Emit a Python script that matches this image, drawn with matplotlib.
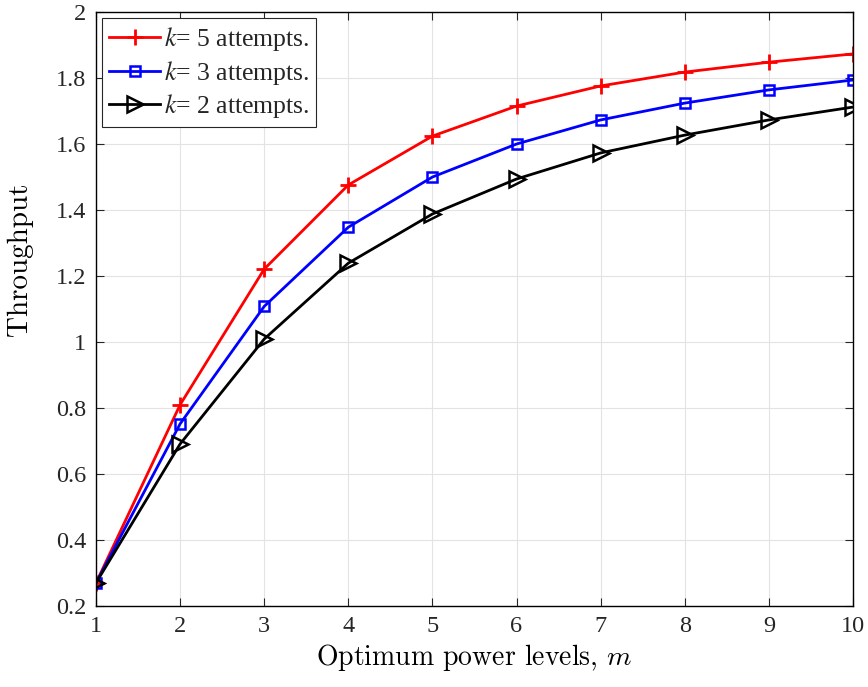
import matplotlib
matplotlib.use('Agg')
import matplotlib.pyplot as plt

plt.rcParams['font.family'] = ['Liberation Serif', 'DejaVu Serif']
plt.rcParams['mathtext.fontset'] = 'cm'
plt.rcParams['text.color'] = '#262626'
plt.rcParams['xtick.color'] = '#262626'
plt.rcParams['ytick.color'] = '#262626'

m = [1, 2, 3, 4, 5, 6, 7, 8, 9, 10]
k5 = [0.27, 0.81, 1.221, 1.476, 1.624, 1.715, 1.776, 1.818, 1.848, 1.873]
k3 = [0.27, 0.752, 1.108, 1.348, 1.500, 1.600, 1.673, 1.724, 1.764, 1.794]
k2 = [0.27, 0.691, 1.009, 1.239, 1.388, 1.494, 1.573, 1.627, 1.673, 1.712]

fig = plt.figure(figsize=(8.68, 6.87), dpi=100)
ax = fig.add_axes([0.1106, 0.1179, 0.8721, 0.8646])

ax.plot(m, k5, color='red', lw=2, marker='+', ms=12, mew=2, label='$k$= 5 attempts.')
ax.plot(m, k3, color='blue', lw=2, marker='s', ms=7, mew=1.8, mfc='none', label='$k$= 3 attempts.')
ax.plot(m, k2, color='black', lw=2, marker='>', ms=11, mew=1.8, mfc='none', label='$k$= 2 attempts.')

ax.set_xlim(1, 10)
ax.set_ylim(0.2, 2)
ax.set_xticks(m)
ax.set_yticks([0.2, 0.4, 0.6, 0.8, 1, 1.2, 1.4, 1.6, 1.8, 2])
ax.set_yticklabels(['0.2', '0.4', '0.6', '0.8', '1', '1.2', '1.4', '1.6', '1.8', '2'])
ax.tick_params(direction='in', top=True, right=True, labelsize=17.5, length=6, pad=7)
ax.grid(True, color='#e3e3e3', lw=0.8)
for s in ax.spines.values():
    s.set_linewidth(1)

ax.set_xlabel('Optimum power levels, $m$', fontsize=20, family='cmr10', labelpad=4)
ax.set_ylabel('Throughput', fontsize=21, family='cmr10')
ax.yaxis.set_label_coords(-0.083, 0.584)

leg = ax.legend(loc='upper left', fontsize=18.5, fancybox=False, edgecolor='#262626',
                framealpha=1, borderpad=0.25, labelspacing=0.22, handlelength=2.0,
                handletextpad=0.15, borderaxespad=0.25)
leg.get_frame().set_linewidth(0.8)
for t in leg.get_texts():
    t.set_math_fontfamily('stix')

fig.savefig('out.png', dpi=100)
